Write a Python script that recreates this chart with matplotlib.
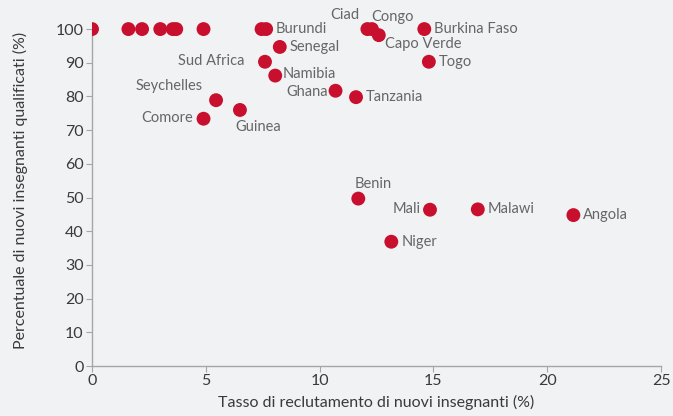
import matplotlib
matplotlib.use("Agg")
import matplotlib.pyplot as plt

# dati: tasso di reclutamento (%) e percentuale di nuovi insegnanti qualificati (%)
unlabeled_x = [0.0, 1.6, 2.2, 3.0, 3.55, 3.7, 4.9, 7.45]
unlabeled_y = [100, 100, 100, 100, 100, 100, 100, 100]

countries = ["Burundi", "Ciad", "Congo", "Capo Verde", "Burkina Faso", "Togo",
             "Senegal", "Sud Africa", "Namibia", "Ghana", "Tanzania",
             "Seychelles", "Guinea", "Comore", "Benin", "Mali", "Malawi",
             "Angola", "Niger"]
rate = [7.65, 12.1, 12.3, 12.6, 14.6, 14.8,
        8.25, 7.6, 8.05, 10.7, 11.6,
        5.45, 6.5, 4.9, 11.7, 14.85, 16.95,
        21.15, 13.15]
qualified = [100, 100, 100, 98.2, 100, 90.3,
             94.7, 90.3, 86.2, 81.7, 79.8,
             78.9, 76.0, 73.4, 49.7, 46.4, 46.5,
             44.8, 36.9]

# posizione delle etichette (pixel) e allineamento
offsets = {
    "Burundi": (10, 0, "left"), "Ciad": (-8, 14, "right"), "Congo": (-1, 12, "left"),
    "Capo Verde": (6, -9, "left"), "Burkina Faso": (10, 0, "left"), "Togo": (10, 0, "left"),
    "Senegal": (10, 0, "left"), "Sud Africa": (-20, 1, "right"), "Namibia": (7, 2, "left"),
    "Ghana": (-8, -1, "right"), "Tanzania": (10, 0, "left"), "Seychelles": (-13, 14, "right"),
    "Guinea": (-5, -17, "left"), "Comore": (-11, 1, "right"), "Benin": (-4, 15, "left"),
    "Mali": (-9, 1, "right"), "Malawi": (10, 0, "left"), "Angola": (10, 0, "left"),
    "Niger": (10, 0, "left"),
}

bg = "#f1f2f4"
red = "#c8102e"
grey = "#666666"
dark = "#3a3a3a"

plt.rcParams["font.family"] = ["Lato", "DejaVu Sans"]

fig = plt.figure(figsize=(6.73, 4.16), dpi=100, facecolor=bg)
ax = fig.add_axes([0.1367, 0.12, 0.8455, 0.8425])
ax.set_facecolor(bg)

ax.scatter(unlabeled_x, unlabeled_y, s=100, color=red, edgecolors="none", zorder=3)
ax.scatter(rate, qualified, s=100, color=red, edgecolors="none", zorder=3)

for name, x, y in zip(countries, rate, qualified):
    dx, dy, ha = offsets[name]
    ax.annotate(name, (x, y), xytext=(dx, dy), textcoords="offset pixels",
                ha=ha, va="center", fontsize=10.5, color=grey)

ax.set_xlim(0, 25)
ax.set_ylim(0, 104)
ax.set_xticks(range(0, 26, 5))
ax.set_yticks(range(0, 101, 10))

for side in ["top", "right"]:
    ax.spines[side].set_visible(False)
for side in ["left", "bottom"]:
    ax.spines[side].set_color("#a6a6a6")
    ax.spines[side].set_linewidth(1.0)
ax.spines["left"].set_bounds(0, 100)
ax.tick_params(colors="#a6a6a6", labelcolor=dark, labelsize=11.5, length=4, pad=2, direction="out")

ax.set_xlabel("Tasso di reclutamento di nuovi insegnanti (%)", fontsize=11.5, color=dark, labelpad=5)
ax.set_ylabel("Percentuale di nuovi insegnanti qualificati (%)", fontsize=11.5, color=dark, labelpad=20)

fig.savefig("out.png", dpi=100, facecolor=bg)
